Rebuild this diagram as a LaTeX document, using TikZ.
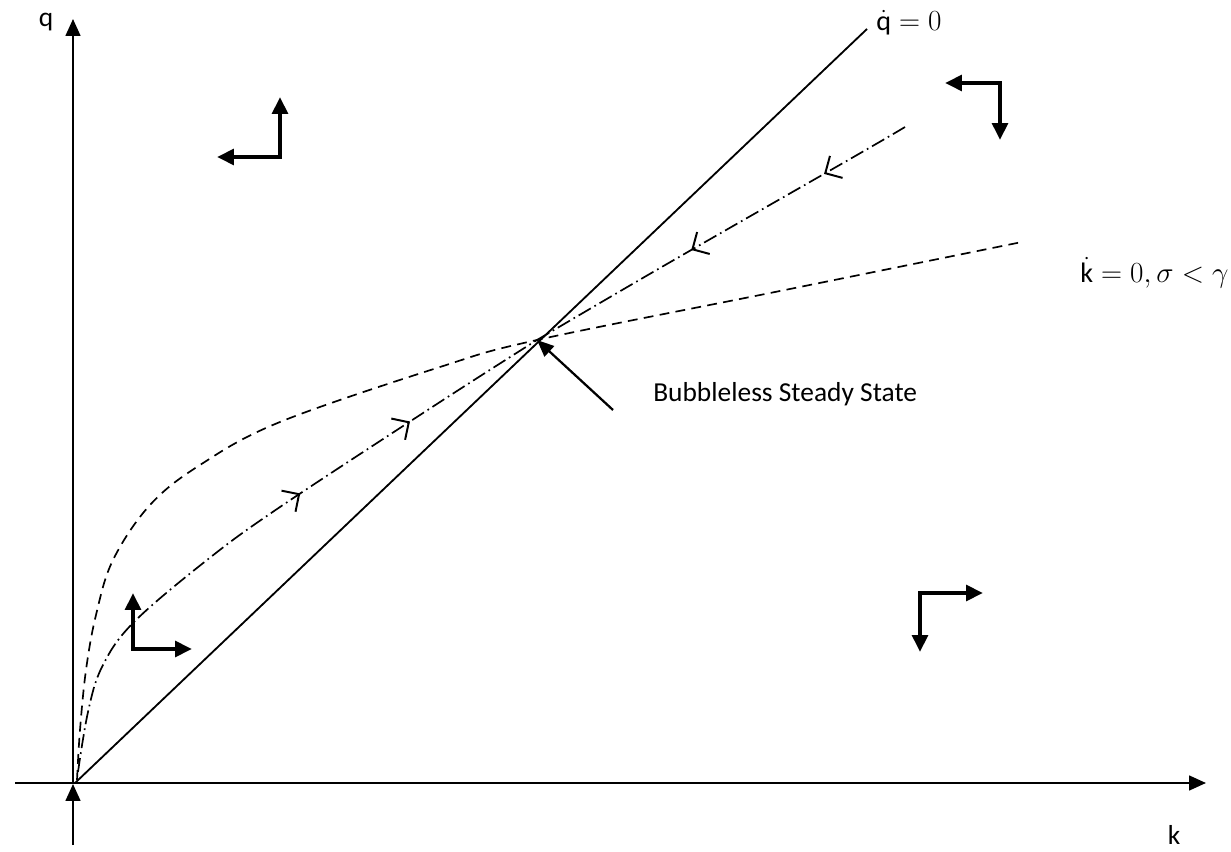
\documentclass[tikz,border=0pt]{standalone}
\usepackage{amsmath}
\usepackage{fontspec}
\setmainfont{Carlito}
\usetikzlibrary{arrows.meta,decorations.markings}

\begin{document}
\begin{tikzpicture}[x=0.025cm, y=-0.025cm,
  axis/.style={line width=1.4pt, -{Triangle[length=12pt,width=10.5pt]}},
  locus/.style={line width=1.3pt},
  knull/.style={line width=1.2pt, dash pattern=on 7pt off 4.5pt},
  saddle/.style={line width=1.2pt, dash pattern=on 10pt off 3pt on 1.2pt off 3pt},
  dirarrow/.style={line width=2.8pt, {Triangle[length=12pt,width=11pt]}-{Triangle[length=12pt,width=11pt]}},
  pointer/.style={line width=1.6pt, -{Triangle[length=12pt,width=10pt]}},
  lbl/.style={font=\fontsize{19.5}{23}\selectfont, inner sep=0pt},
  mathlbl/.style={font=\fontsize{20}{24}\selectfont, inner sep=0pt}]

  \useasboundingbox (0,0) rectangle (1231,852);

  \coordinate (origin) at (75,783);
  \coordinate (ss) at (537,340);
  \coordinate (ptr) at (613,410);

  % axes
  \draw[axis] (73,845) -- (73,784);
  \draw[axis] (73,784) -- (73,19);
  \draw[axis] (15,783) -- (1206,783);
  \node[lbl] (qlab) at (46,22) {q};
  \node[lbl] (klab) at (1174,835) {k};

  % loci
  \draw[locus] (origin) -- (867,29);
  \node[mathlbl, anchor=base west] (qdot) at (876,31) {$\dot{\mathrm{q}} = 0$};

  \draw[knull] plot[smooth, tension=0.6] coordinates {(77,780) (80,730) (86,670) (96,615) (113,560) (150,505) (200,465) (280,422) (440,367) (537,340) (780,291) (1022,242)};
  \node[mathlbl, anchor=base west] (kdot) at (1080,283) {$\dot{\mathrm{k}} = 0, \sigma < \gamma$};

  % saddle path
  \draw[saddle, postaction={decorate}, decoration={markings,
      mark=at position 0.57 with {\arrow[solid]{Straight Barb[length=9pt,width=18pt,line width=1.4pt]}},
      mark=at position 0.77 with {\arrow[solid]{Straight Barb[length=9pt,width=18pt,line width=1.4pt]}}}]
    plot[smooth, tension=0.6] coordinates {(78,772) (88,712) (102,667) (133,623) (207,560) (280,507) (440,402) (ss)};
  \draw[saddle, postaction={decorate}, decoration={markings,
      mark=at position 0.22 with {\arrow[solid]{Straight Barb[length=9pt,width=18pt,line width=1.4pt]}},
      mark=at position 0.58 with {\arrow[solid]{Straight Barb[length=9pt,width=18pt,line width=1.4pt]}}}]
    plot[smooth, tension=0.6] coordinates {(905,127) (857,155) (660,268) (ss)};

  % steady state
  \node[lbl, anchor=base west] (sslab) at (653,402) {Bubbleless Steady State};
  \draw[pointer] (ptr) -- (ss);

  % directions of motion
  \draw[dirarrow] (280,97) |- (217,157);
  \draw[dirarrow] (945,83) -| (1000,140);
  \draw[dirarrow] (133,593) |- (192,649);
  \draw[dirarrow] (983,593) -| (920,652);
\end{tikzpicture}
\end{document}
